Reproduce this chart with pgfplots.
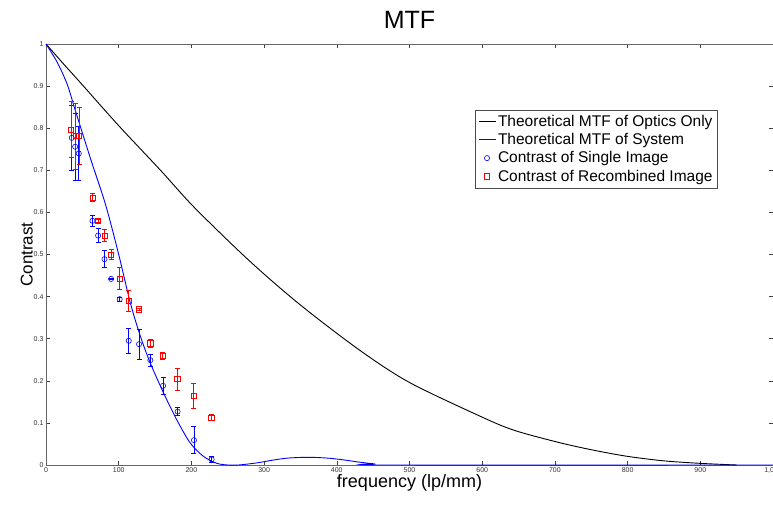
\documentclass[border=0pt]{standalone}
\usepackage{pgfplots}
\pgfplotsset{compat=1.18}
\usepackage{fontspec}
\setmainfont{Liberation Sans}

\begin{document}
\begin{tikzpicture}[x=1pt,y=1pt]
\begin{axis}[
    scale only axis,
    width=727pt, height=421pt,
    xmin=0, xmax=1000, ymin=0, ymax=1,
    xtick={0,100,...,1000},
    ytick={0,0.1,...,1},
    tick align=inside,
    major tick length=4pt,
    tick style={black!75, line width=0.6pt},
    axis line style={black!60, line width=0.8pt},
    ticklabel style={font=\fontsize{7}{8}\selectfont, black!80},
    /pgf/number format/assume math mode=true,
    xticklabel style={yshift=1pt},
    yticklabel style={xshift=1pt},
    title={MTF},
    title style={font=\fontsize{25}{27}\selectfont, yshift=6pt},
    xlabel={frequency (lp/mm)},
    ylabel={Contrast},
    xlabel style={font=\fontsize{18}{20}\selectfont, yshift=6pt},
    ylabel style={font=\fontsize{17}{19}\selectfont, yshift=-6pt},
    legend style={at={(rel axis cs:0.924,0.843)}, anchor=north east,
        font=\fontsize{15.5}{17}\selectfont, draw=black!70,
        row sep=1.5pt, inner xsep=3pt, inner ysep=3pt},
    legend cell align=left,
    clip=false,
]
% theoretical MTF of optics only
\addplot[black, line width=0.9pt, smooth] coordinates {
    (0,1) (25,0.951) (50,0.903) (100,0.806) (157,0.701) (205,0.610)
    (281,0.483) (350,0.380) (432,0.272) (500,0.196) (597,0.116)
    (643,0.083) (702,0.055) (748,0.037) (798,0.021) (849,0.010)
    (899,0.004) (950,0.0)
};
\addlegendentry{Theoretical MTF of Optics Only}
% theoretical MTF of system
\addplot[blue, line width=0.9pt, smooth] coordinates {
    (0,1) (15,0.958) (29,0.905) (40,0.844) (61,0.729) (82,0.618)
    (100,0.500) (116,0.385) (130,0.305) (143.5,0.242) (162,0.170)
    (180,0.107) (198.5,0.052) (217,0.020) (235,0.004) (250,0.0)
    (265,0.0) (290,0.005) (310,0.011) (330,0.016) (350,0.018)
    (370,0.018) (390,0.016) (410,0.012) (430,0.007) (450,0.003)
    (470,0.0) (1000,0.0)
};
\addlegendentry{Theoretical MTF of System}
% measured contrast, single image
\addplot[blue, only marks, mark=o, mark size=2.6pt, line width=0.6pt,
    error bars/.cd, y dir=both, y explicit,
    error bar style={blue, line width=0.8pt},
    error mark options={blue, rotate=90, mark size=2.5pt, line width=0.8pt}]
coordinates {
    (35.4,0.777) +- (0,0.077)
    (40.1,0.756) +- (0,0.080)
    (45.1,0.740) +- (0,0.065)
    (63.9,0.580) +- (0,0.013)
    (71.7,0.545) +- (0,0.016)
    (80.4,0.489) +- (0,0.020)
    (89.5,0.442) +- (0,0.002)
    (101.4,0.394) +- (0,0.005)
    (113.8,0.295) +- (0,0.029)
    (128.0,0.287) +- (0,0.036)
    (143.5,0.249) +- (0,0.014)
    (161.0,0.188) +- (0,0.020)
    (181.0,0.127) +- (0,0.010)
    (203.5,0.059) +- (0,0.032)
    (227.8,0.0135) +- (0,0.008)
};
\addlegendentry{Contrast of Single Image}
% measured contrast, recombined image
\addplot[red, only marks, mark=square, mark size=2.6pt, line width=0.6pt,
    error bars/.cd, y dir=both, y explicit,
    error bar style={red, line width=0.8pt},
    error mark options={red, rotate=90, mark size=2.5pt, line width=0.8pt}]
coordinates {
    (34.6,0.797) +- (0,0.066)
    (40.5,0.781) +- (0,0.079)
    (45.6,0.781) +- (0,0.068)
    (63.9,0.635) +- (0,0.010)
    (71.7,0.580) +- (0,0.004)
    (80.4,0.545) +- (0,0.015)
    (89.5,0.500) +- (0,0.012)
    (101.4,0.443) +- (0,0.026)
    (113.8,0.390) +- (0,0.025)
    (128.0,0.370) +- (0,0.003)
    (143.5,0.289) +- (0,0.010)
    (160.5,0.260) +- (0,0.008)
    (180.6,0.204) +- (0,0.026)
    (203.0,0.165) +- (0,0.030)
    (227.3,0.113) +- (0,0.008)
};
\addlegendentry{Contrast of Recombined Image}
\end{axis}
\pgfresetboundingbox
\useasboundingbox (-46pt,-39pt) rectangle (727pt,465pt);
\end{tikzpicture}
\end{document}
